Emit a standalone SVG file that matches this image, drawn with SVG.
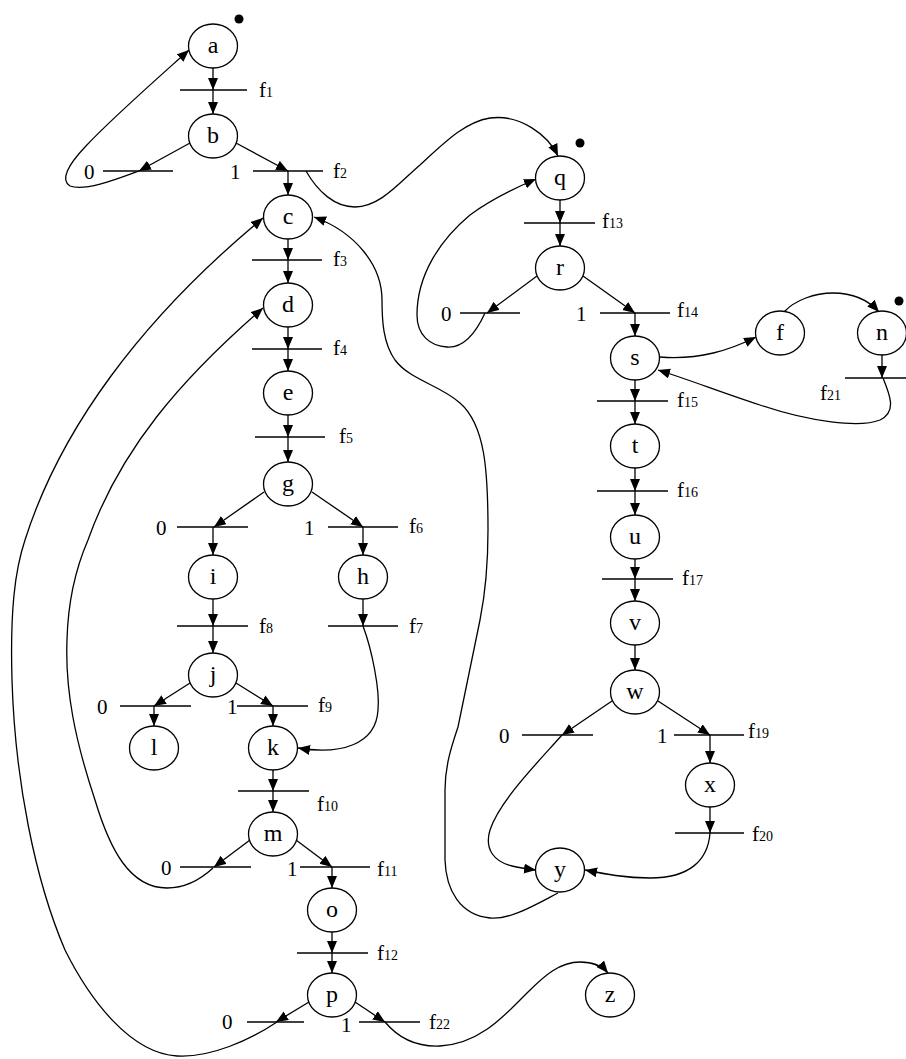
<svg xmlns="http://www.w3.org/2000/svg" width="906" height="1059" viewBox="0 0 906 1059">
<style>
.pl ellipse{fill:#fff;stroke:#000;stroke-width:1.3}
.pl text{font-family:"Liberation Serif","Times New Roman",serif;font-size:24px;text-anchor:middle;fill:#000}
.tr line{stroke:#000;stroke-width:1.3}
.lb{font-family:"Liberation Serif","Times New Roman",serif;font-size:21px;fill:#000}
.sb{font-size:14px}
.tk{fill:#000}
#connectors path,#connectors line{fill:none;stroke:#000;stroke-width:1.3;marker-end:url(#ah)}
</style>
<defs>
<marker id="ah" markerUnits="userSpaceOnUse" markerWidth="13" markerHeight="11" refX="12" refY="5" orient="auto">
<path d="M0,0 L12,5 L0,10 z" fill="#000"/>
</marker>
</defs>
<rect width="906" height="1059" fill="#fff"/>

<g id="connectors">
<line x1="213" y1="68" x2="213" y2="90"/>
<line x1="213" y1="90" x2="213" y2="114"/>
<line x1="190" y1="143" x2="139" y2="171"/>
<line x1="236" y1="143" x2="288" y2="171"/>
<line x1="288" y1="171" x2="288" y2="195"/>
<path d="M139,171 C120,178 85,192 70,186 C60,180 68,165 85,147 C110,120 150,85 189,50"/>
<path d="M306,171 C318,192 335,207 355,207 C380,207 400,182 420,165 C445,142 465,122 490,118 C520,114 548,135 558,156"/>
<line x1="288" y1="239" x2="288" y2="260"/>
<line x1="288" y1="260" x2="288" y2="283"/>
<line x1="288" y1="327" x2="288" y2="349"/>
<line x1="288" y1="349" x2="288" y2="371"/>
<line x1="288" y1="415" x2="288" y2="437"/>
<line x1="288" y1="437" x2="288" y2="462"/>
<line x1="264" y1="492" x2="214" y2="527"/>
<line x1="312" y1="492" x2="363" y2="527"/>
<line x1="213" y1="527" x2="213" y2="555"/>
<line x1="363" y1="527" x2="363" y2="555"/>
<line x1="213" y1="599" x2="213" y2="626"/>
<line x1="213" y1="626" x2="213" y2="653"/>
<line x1="363" y1="599" x2="363" y2="626"/>
<path d="M363,626 C372,650 380,690 378,710 C376,745 340,755 298,748"/>
<line x1="190" y1="683" x2="154" y2="706"/>
<line x1="236" y1="683" x2="273" y2="706"/>
<line x1="154" y1="706" x2="154" y2="726"/>
<line x1="273" y1="706" x2="273" y2="726"/>
<line x1="273" y1="770" x2="273" y2="791"/>
<line x1="273" y1="791" x2="273" y2="812"/>
<line x1="250" y1="840" x2="214" y2="867"/>
<line x1="296" y1="840" x2="332" y2="867"/>
<line x1="332" y1="867" x2="332" y2="888"/>
<line x1="332" y1="932" x2="332" y2="953"/>
<line x1="332" y1="953" x2="332" y2="973"/>
<line x1="309" y1="1002" x2="276" y2="1022"/>
<line x1="355" y1="1002" x2="385" y2="1022"/>
<path d="M385,1022 C400,1040 418,1047 440,1046 C480,1044 505,1015 527,993 C545,975 560,962 580,962 C595,962 603,967 608,973"/>
<path d="M277,1022 C250,1040 210,1058 177,1056 C130,1053 90,1000 65,950 C35,880 15,780 12,680 C10,610 15,570 25,540 C60,430 140,320 263,218"/>
<path d="M213,868 C200,880 185,888 167,888 C130,888 110,850 95,800 C75,740 65,690 67,640 C68,600 75,570 88,540 C120,450 180,380 263,308"/>
<line x1="560" y1="200" x2="560" y2="223"/>
<line x1="560" y1="223" x2="560" y2="246"/>
<line x1="537" y1="276" x2="487" y2="313"/>
<line x1="583" y1="276" x2="635" y2="313"/>
<line x1="635" y1="313" x2="635" y2="336"/>
<path d="M485,313 C475,335 462,348 447,347 C430,346 417,335 417,315 C417,275 440,240 470,215 C490,200 515,188 536,179"/>
<path d="M660,357 C700,360 730,350 756,337"/>
<path d="M784,312 C795,300 815,293 833,293 C855,293 870,302 879,312"/>
<line x1="882" y1="355" x2="882" y2="378"/>
<path d="M883,378 C890,395 897,412 880,420 C860,428 810,422 760,405 C720,392 690,380 658,370"/>
<line x1="635" y1="380" x2="635" y2="401"/>
<line x1="635" y1="401" x2="635" y2="424"/>
<line x1="635" y1="468" x2="635" y2="491"/>
<line x1="635" y1="491" x2="635" y2="515"/>
<line x1="635" y1="559" x2="635" y2="579"/>
<line x1="635" y1="579" x2="635" y2="601"/>
<line x1="635" y1="645" x2="635" y2="670"/>
<line x1="612" y1="701" x2="562" y2="735"/>
<line x1="658" y1="701" x2="710" y2="735"/>
<line x1="710" y1="735" x2="710" y2="763"/>
<line x1="710" y1="807" x2="710" y2="833"/>
<path d="M710,833 C708,860 690,878 650,878 C625,878 605,874 585,870"/>
<path d="M562,735 C540,760 500,800 490,830 C484,850 495,862 512,866 C520,868 528,869 536,870"/>
<path d="M558,893 C535,905 510,920 490,918 C460,915 446,890 445,860 L445,790 C445,765 452,745 458,727 L480,620 C486,590 488,565 488,530 C488,470 485,425 460,403 C440,385 410,380 395,360 C383,343 382,320 382,300 C382,265 355,232 314,217"/>
</g>

<g class="tr">
<g id="f1"><line x1="180" y1="90" x2="247" y2="90"/><text class="lb" x="259" y="97">f<tspan class="sb">1</tspan></text></g>
<g id="t_b0"><line x1="103" y1="171" x2="173" y2="171"/><text class="lb" x="84" y="179">0</text></g>
<g id="f2"><line x1="253" y1="171" x2="323" y2="171"/><text class="lb" x="230" y="179">1</text><text class="lb" x="333" y="178">f<tspan class="sb">2</tspan></text></g>
<g id="f3"><line x1="252" y1="260" x2="322" y2="260"/><text class="lb" x="333" y="266">f<tspan class="sb">3</tspan></text></g>
<g id="f4"><line x1="252" y1="349" x2="322" y2="349"/><text class="lb" x="333" y="355">f<tspan class="sb">4</tspan></text></g>
<g id="f5"><line x1="255" y1="437" x2="325" y2="437"/><text class="lb" x="339" y="443">f<tspan class="sb">5</tspan></text></g>
<g id="t_g0"><line x1="177" y1="527" x2="248" y2="527"/><text class="lb" x="156" y="535">0</text></g>
<g id="f6"><line x1="328" y1="527" x2="398" y2="527"/><text class="lb" x="304" y="535">1</text><text class="lb" x="409" y="533">f<tspan class="sb">6</tspan></text></g>
<g id="f8"><line x1="177" y1="626" x2="248" y2="626"/><text class="lb" x="259" y="633">f<tspan class="sb">8</tspan></text></g>
<g id="f7"><line x1="328" y1="626" x2="398" y2="626"/><text class="lb" x="409" y="633">f<tspan class="sb">7</tspan></text></g>
<g id="t_j0"><line x1="120" y1="706" x2="191" y2="706"/><text class="lb" x="97" y="714">0</text></g>
<g id="f9"><line x1="237" y1="706" x2="308" y2="706"/><text class="lb" x="227" y="714">1</text><text class="lb" x="318" y="712">f<tspan class="sb">9</tspan></text></g>
<g id="f10"><line x1="238" y1="791" x2="309" y2="791"/><text class="lb" x="317" y="811">f<tspan class="sb">10</tspan></text></g>
<g id="t_m0"><line x1="180" y1="867" x2="251" y2="867"/><text class="lb" x="161" y="875">0</text></g>
<g id="f11"><line x1="300" y1="867" x2="370" y2="867"/><text class="lb" x="287" y="876">1</text><text class="lb" x="377" y="876">f<tspan class="sb">11</tspan></text></g>
<g id="f12"><line x1="297" y1="953" x2="368" y2="953"/><text class="lb" x="377" y="960">f<tspan class="sb">12</tspan></text></g>
<g id="t_p0"><line x1="247" y1="1022" x2="304" y2="1022"/><text class="lb" x="222" y="1029">0</text></g>
<g id="f22"><line x1="359" y1="1022" x2="420" y2="1022"/><text class="lb" x="341" y="1032">1</text><text class="lb" x="429" y="1029">f<tspan class="sb">22</tspan></text></g>
<g id="f13"><line x1="524" y1="223" x2="595" y2="223"/><text class="lb" x="602" y="228">f<tspan class="sb">13</tspan></text></g>
<g id="t_r0"><line x1="460" y1="313" x2="520" y2="313"/><text class="lb" x="441" y="321">0</text></g>
<g id="f14"><line x1="600" y1="313" x2="670" y2="313"/><text class="lb" x="576" y="321">1</text><text class="lb" x="677" y="317">f<tspan class="sb">14</tspan></text></g>
<g id="f15"><line x1="597" y1="401" x2="668" y2="401"/><text class="lb" x="677" y="407">f<tspan class="sb">15</tspan></text></g>
<g id="f16"><line x1="597" y1="491" x2="668" y2="491"/><text class="lb" x="677" y="497">f<tspan class="sb">16</tspan></text></g>
<g id="f17"><line x1="602" y1="579" x2="673" y2="579"/><text class="lb" x="682" y="585">f<tspan class="sb">17</tspan></text></g>
<g id="t_w0"><line x1="522" y1="735" x2="593" y2="735"/><text class="lb" x="499" y="743">0</text></g>
<g id="f19"><line x1="674" y1="735" x2="744" y2="735"/><text class="lb" x="657" y="743">1</text><text class="lb" x="748" y="738">f<tspan class="sb">19</tspan></text></g>
<g id="f20"><line x1="675" y1="833" x2="744" y2="833"/><text class="lb" x="752" y="841">f<tspan class="sb">20</tspan></text></g>
<g id="f21"><line x1="845" y1="378" x2="906" y2="378"/><text class="lb" x="820" y="400">f<tspan class="sb">21</tspan></text></g>
</g>

<g class="pl">
<g id="a"><ellipse cx="213" cy="46" rx="24.5" ry="22"/><text x="213" y="53">a</text><circle class="tk" cx="239" cy="19" r="4.5"/></g>
<g id="b"><ellipse cx="213" cy="136" rx="24.5" ry="22"/><text x="213" y="143">b</text></g>
<g id="c"><ellipse cx="288" cy="217" rx="24.5" ry="22"/><text x="288" y="224">c</text></g>
<g id="d"><ellipse cx="288" cy="305" rx="24.5" ry="22"/><text x="288" y="312">d</text></g>
<g id="e"><ellipse cx="288" cy="393" rx="24.5" ry="22"/><text x="288" y="400">e</text></g>
<g id="g"><ellipse cx="288" cy="484" rx="24.5" ry="22"/><text x="288" y="491">g</text></g>
<g id="i"><ellipse cx="213" cy="577" rx="24.5" ry="22"/><text x="213" y="584">i</text></g>
<g id="h"><ellipse cx="363" cy="577" rx="24.5" ry="22"/><text x="363" y="584">h</text></g>
<g id="j"><ellipse cx="213" cy="675" rx="24.5" ry="22"/><text x="213" y="682">j</text></g>
<g id="l"><ellipse cx="154" cy="748" rx="24.5" ry="22"/><text x="154" y="755">l</text></g>
<g id="k"><ellipse cx="273" cy="748" rx="24.5" ry="22"/><text x="273" y="755">k</text></g>
<g id="m"><ellipse cx="273" cy="834" rx="24.5" ry="22"/><text x="273" y="841">m</text></g>
<g id="o"><ellipse cx="332" cy="910" rx="24.5" ry="22"/><text x="332" y="917">o</text></g>
<g id="p"><ellipse cx="332" cy="995" rx="24.5" ry="22"/><text x="332" y="1002">p</text></g>
<g id="z"><ellipse cx="610" cy="995" rx="24.5" ry="22"/><text x="610" y="1002">z</text></g>
<g id="q"><ellipse cx="560" cy="178" rx="24.5" ry="22"/><text x="560" y="185">q</text><circle class="tk" cx="580" cy="143" r="4.5"/></g>
<g id="r"><ellipse cx="560" cy="268" rx="24.5" ry="22"/><text x="560" y="275">r</text></g>
<g id="s"><ellipse cx="635" cy="358" rx="24.5" ry="22"/><text x="635" y="365">s</text></g>
<g id="f"><ellipse cx="780" cy="333" rx="24.5" ry="22"/><text x="780" y="340">f</text></g>
<g id="n"><ellipse cx="882" cy="333" rx="24.5" ry="22"/><text x="882" y="340">n</text><circle class="tk" cx="899" cy="301" r="4.5"/></g>
<g id="t"><ellipse cx="635" cy="446" rx="24.5" ry="22"/><text x="635" y="453">t</text></g>
<g id="u"><ellipse cx="635" cy="537" rx="24.5" ry="22"/><text x="635" y="544">u</text></g>
<g id="v"><ellipse cx="635" cy="623" rx="24.5" ry="22"/><text x="635" y="630">v</text></g>
<g id="w"><ellipse cx="635" cy="692" rx="24.5" ry="22"/><text x="635" y="699">w</text></g>
<g id="x"><ellipse cx="710" cy="785" rx="24.5" ry="22"/><text x="710" y="792">x</text></g>
<g id="y"><ellipse cx="560" cy="870" rx="24.5" ry="22"/><text x="560" y="877">y</text></g>
</g>
</svg>
